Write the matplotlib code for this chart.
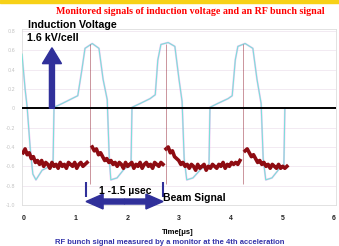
import numpy as np
import matplotlib
matplotlib.use("Agg")
import matplotlib.pyplot as plt

# induction voltage trace (time in us, value in grid units)
volt_t = [-0.04, 0.02, 0.06, 0.12, 0.17, 0.23, 0.35, 0.50, 0.56, 0.58, 0.74, 0.89, 1.04,
          1.12, 1.18, 1.32, 1.45, 1.53, 1.61, 1.65, 1.68, 1.80, 1.95, 2.07, 2.09,
          2.25, 2.44, 2.54, 2.59, 2.65, 2.79, 2.92, 3.00, 3.06, 3.10, 3.15, 3.27, 3.44, 3.58, 3.60,
          3.75, 3.95, 4.03, 4.09, 4.14, 4.28, 4.43, 4.51, 4.59, 4.63, 4.68, 4.80, 4.95, 5.03, 5.05]
volt_v = [2.8, 1.0, 0.05, -2.1, -3.4, -3.7, -3.2, -3.0, -3.0, 0.05, 0.25, 0.45, 0.65,
          2.0, 3.1, 3.35, 3.1, 1.5, 0.45, -2.6, -3.7, -3.6, -3.1, -3.0, 0.05,
          0.25, 0.5, 0.7, 2.5, 3.3, 3.4, 3.2, 1.5, 0.35, -2.6, -3.7, -3.6, -3.1, -3.0, 0.05,
          0.25, 0.5, 0.65, 2.5, 3.2, 3.35, 3.1, 1.5, 0.25, -2.6, -3.7, -3.6, -3.1, -3.0, 0.0]

# beam signal segments: (start, end, samples)
beam_segments = [
    (-0.02, 1.22, [-2.3, -2.1, -2.4, -2.3, -2.6, -2.5, -2.8, -2.7, -2.9, -2.7, -3.0, -2.8,
                   -2.9, -3.1, -2.8, -3.0, -2.9, -3.1, -2.8, -3.0, -2.9, -3.1, -2.8, -2.9,
                   -3.0, -2.8, -3.1, -2.9, -2.8, -3.0, -2.9, -2.8]),
    (1.32, 2.69, [-2.0, -2.2, -2.1, -2.4, -2.3, -2.5, -2.7, -2.6, -2.8, -2.7, -2.9, -2.8,
                  -3.0, -2.8, -2.9, -3.1, -2.8, -3.0, -2.9, -2.8, -3.1, -2.9, -3.0, -2.8,
                  -3.1, -2.9, -2.8, -3.0, -2.9, -3.1, -2.8, -2.9, -3.0, -2.8, -2.9]),
    (2.75, 4.18, [-2.1, -2.0, -2.3, -2.2, -2.5, -2.6, -2.7, -2.9, -2.8, -3.0, -2.9, -3.1,
                  -2.9, -3.0, -3.2, -2.9, -3.1, -3.0, -2.9, -3.2, -3.0, -3.1, -2.9, -3.0,
                  -3.1, -2.9, -3.0, -2.8, -3.1, -2.9, -3.0, -2.8, -2.9, -2.8, -2.9, -2.7]),
    (4.28, 5.09, [-2.2, -2.1, -2.3, -2.5, -2.4, -2.6, -2.8, -2.7, -2.9, -2.8, -3.0, -2.9,
                  -3.1, -2.9, -3.0, -3.1, -2.9, -3.1, -3.0, -3.1, -3.0]),
]
spike_t = [1.28, 2.74, 4.24]

x_ticks = [0, 1, 2, 3, 4, 5, 6]
y_ticks = [-5, -4, -3, -2, -1, 0, 1, 2, 3, 4]
y_labels = ["-1.0", "-0.8", "-0.6", "-0.4", "-0.2", "0", "0.2", "0.4", "0.6", "0.8"]

blue = "#30309a"
sans = "Liberation Sans"

fig = plt.figure(figsize=(3.39, 2.46), dpi=100)
fig.patches.append(plt.Rectangle((0, 1 - 3 / 246), 1, 3 / 246, transform=fig.transFigure,
                                 color="#f7d117", zorder=0))
fig.text(0.562, 1 - 11 / 246, "Monitored signals of induction voltage and an RF bunch signal",
         color="#ff0000", fontsize=7.2, fontweight="bold", family="Liberation Serif",
         ha="center", va="center")

ax = fig.add_axes([22 / 339, 41 / 246, 314 / 339, 176 / 246])
ax.set_xlim(-0.04, 6.04)
ax.set_ylim(-5, 4.1)

ax.set_yticks(y_ticks)
ax.set_yticklabels(y_labels)
ax.set_xticks(x_ticks)
ax.tick_params(axis="y", length=0, labelsize=3.5, labelcolor="#c4c4c4", pad=5)
ax.tick_params(axis="x", length=0, labelsize=5, labelcolor="#222222", pad=7)
for lab in ax.get_xticklabels():
    lab.set_fontweight("bold")
    lab.set_family(sans)
ax.grid(axis="y", color="#f0e6f0", lw=0.6)
for s in ax.spines.values():
    s.set_color("#dddddd")
    s.set_linewidth(0.6)

# voltage: faint magenta halo with cyan on top
ax.plot(volt_t, volt_v, color="#ec9aec", lw=1.4, alpha=0.55, zorder=2)
ax.plot(volt_t, volt_v, color="#5ee6d2", lw=0.8, alpha=0.8, zorder=3)

# beam signal
for t0, t1, vals in beam_segments:
    ax.plot(np.linspace(t0, t1, len(vals)), vals, color="#8e0c12", lw=2.6, zorder=4)
ax.vlines(spike_t, -3.9, 3.35, color="#9a3040", lw=0.6, alpha=0.6, zorder=4)

ax.axhline(0, color="black", lw=1.4, zorder=5)

# induction voltage arrow
ax.arrow(0.54, 0, 0, 3.13, width=0.097, head_width=0.37, head_length=0.82,
         length_includes_head=True, color=blue, zorder=6)
ax.text(0.08, 4.3, "Induction Voltage", fontsize=7.7, fontweight="bold", family=sans,
        ha="left", va="center", clip_on=False)
ax.text(0.06, 3.65, "1.6 kV/cell", fontsize=7.7, fontweight="bold", family=sans,
        ha="left", va="center")

# pulse width double arrow
mid = (1.2 + 2.69) / 2
for end in (1.2, 2.69):
    ax.arrow(mid, -4.82, end - mid, 0, width=0.26, head_width=0.77, head_length=0.33,
             length_includes_head=True, color=blue, zorder=6, clip_on=False)
ax.vlines([1.2, 2.69], -4.6, -3.8, color=blue, lw=1.5, zorder=6)
ax.text(1.96, -4.3, "1 -1.5 µsec", fontsize=7.5, fontweight="bold", family=sans,
        ha="center", va="center", zorder=7)
ax.text(2.69, -4.62, "Beam Signal", fontsize=7.5, fontweight="bold", family=sans,
        ha="left", va="center", zorder=7)

fig.text(178 / 339, 1 - 232 / 246, "Time[μs]", fontsize=5.5, fontweight="bold", family=sans,
         ha="center", va="center")
fig.text(170 / 339, 0.5 / 246, "RF bunch signal measured by a monitor at the 4th acceleration",
         fontsize=5.5, fontweight="bold", family=sans, color="#3333aa", ha="center", va="bottom")

fig.savefig("out.png", dpi=100)
